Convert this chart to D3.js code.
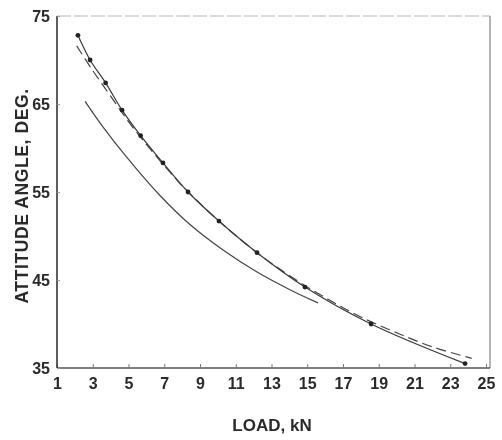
<!DOCTYPE html>
<html>
<head>
<meta charset="utf-8">
<script src="https://cdn.jsdelivr.net/npm/d3@7/dist/d3.min.js"></script>
<style>
  html, body { margin: 0; padding: 0; background: #fff; }
  svg { display: block; }
  text { font-family: "Liberation Sans", Arial, sans-serif; font-weight: bold; fill: #2a2a2a; }
</style>
</head>
<body>
<svg id="chart" width="502" height="440"></svg>
<script>
// Load (kN) vs attitude angle (deg)
const xTicks = [1, 3, 5, 7, 9, 11, 13, 15, 17, 19, 21, 23, 25];
const yTicks = [35, 45, 55, 65, 75];

// measured points, joined by a solid line
const measLoad  = [2.17, 2.85, 3.72, 4.64, 5.68, 6.93, 8.33, 10.06, 12.19, 14.87, 18.57, 23.83];
const measAngle = [72.8, 70.0, 67.4, 64.3, 61.4, 58.3, 55.0, 51.7, 48.1, 44.2, 40.0, 35.5];

// predicted curve (dashed)
const predLoad  = [2.1, 3.0, 4.0, 5.0, 6.0, 7.0, 8.0, 9.0, 10.0, 12.0, 14.0, 16.0, 18.0, 20.0, 22.0, 24.2];
const predAngle = [71.6, 68.8, 65.9, 63.0, 60.4, 58.0, 55.7, 53.7, 51.8, 48.4, 45.5, 43.0, 40.8, 39.0, 37.4, 36.1];

// second solid curve (lower)
const lowLoad  = [2.57, 3.57, 4.92, 6.76, 8.44, 10.29, 12.19, 14.03, 15.6];
const lowAngle = [65.3, 62.4, 58.9, 54.6, 51.3, 48.4, 45.9, 43.9, 42.4];

const svg = d3.select("#chart");
const x = d3.scaleLinear().domain([1, 25]).range([57, 486]);
const y = d3.scaleLinear().domain([35, 75]).range([368, 16]);

const soft = svg.append("defs").append("filter").attr("id", "soft");
soft.append("feGaussianBlur").attr("stdDeviation", 0.45);

const g = svg.append("g").attr("filter", "url(#soft)");

// frame: top and right edges are faint
g.append("line").attr("x1", x(1)).attr("x2", 490).attr("y1", y(75)).attr("y2", y(75))
  .attr("stroke", "#b8b8b8").attr("stroke-width", 1.2).attr("stroke-dasharray", "14,3");
g.append("line").attr("x1", 490).attr("x2", 490).attr("y1", y(75)).attr("y2", y(35))
  .attr("stroke", "#8a8a8a").attr("stroke-width", 1.3);

// axes
const xAxis = d3.axisBottom(x).tickValues(xTicks).tickSize(-4).tickPadding(10).tickFormat(d3.format("d"));
const yAxis = d3.axisLeft(y).tickValues(yTicks).tickSize(-3).tickPadding(7).tickFormat(d3.format("d"));

const gx = g.append("g").attr("transform", `translate(0,${y(35)})`).call(xAxis);
gx.select(".domain").attr("d", `M${x(1)},0H490`).attr("stroke", "#555").attr("stroke-width", 1.3);
gx.selectAll(".tick line").attr("stroke", "#777");
gx.selectAll(".tick text").attr("font-size", 16).attr("fill", "#2a2a2a")
  .attr("font-family", "'Liberation Sans', Arial, sans-serif").attr("font-weight", "bold");

const gy = g.append("g").attr("transform", `translate(${x(1)},0)`).call(yAxis);
gy.select(".domain").attr("d", `M0,${y(75)}V${y(35)}`).attr("stroke", "#333").attr("stroke-width", 1.6);
gy.selectAll(".tick line").attr("stroke", "#999");
gy.selectAll(".tick text").attr("font-size", 16).attr("fill", "#2a2a2a")
  .attr("font-family", "'Liberation Sans', Arial, sans-serif").attr("font-weight", "bold");

// axis titles
g.append("text").attr("x", 272).attr("y", 431).attr("text-anchor", "middle")
  .attr("font-size", 17).text("LOAD, kN");
g.append("text").attr("transform", "translate(28,196) rotate(-90)").attr("text-anchor", "middle")
  .attr("font-size", 17.5).attr("letter-spacing", 0.6).attr("fill", "#333").text("ATTITUDE ANGLE, DEG.");

// curves
const line = d3.line().x(d => x(d[0])).y(d => y(d[1])).curve(d3.curveCatmullRom.alpha(0.5));
const zip = (a, b) => a.map((v, i) => [v, b[i]]);

g.append("path").datum(zip(lowLoad, lowAngle)).attr("d", line)
  .attr("fill", "none").attr("stroke", "#444").attr("stroke-width", 1.2);

g.append("path").datum(zip(predLoad, predAngle)).attr("d", line)
  .attr("fill", "none").attr("stroke", "#444").attr("stroke-width", 1.2)
  .attr("stroke-dasharray", "10,5");

const meas = zip(measLoad, measAngle);
g.append("path").datum(meas).attr("d", line)
  .attr("fill", "none").attr("stroke", "#3a3a3a").attr("stroke-width", 1.2);

g.selectAll("circle.pt").data(meas).join("circle").attr("class", "pt")
  .attr("cx", d => x(d[0])).attr("cy", d => y(d[1])).attr("r", 2.4).attr("fill", "#222");
</script>
</body>
</html>
